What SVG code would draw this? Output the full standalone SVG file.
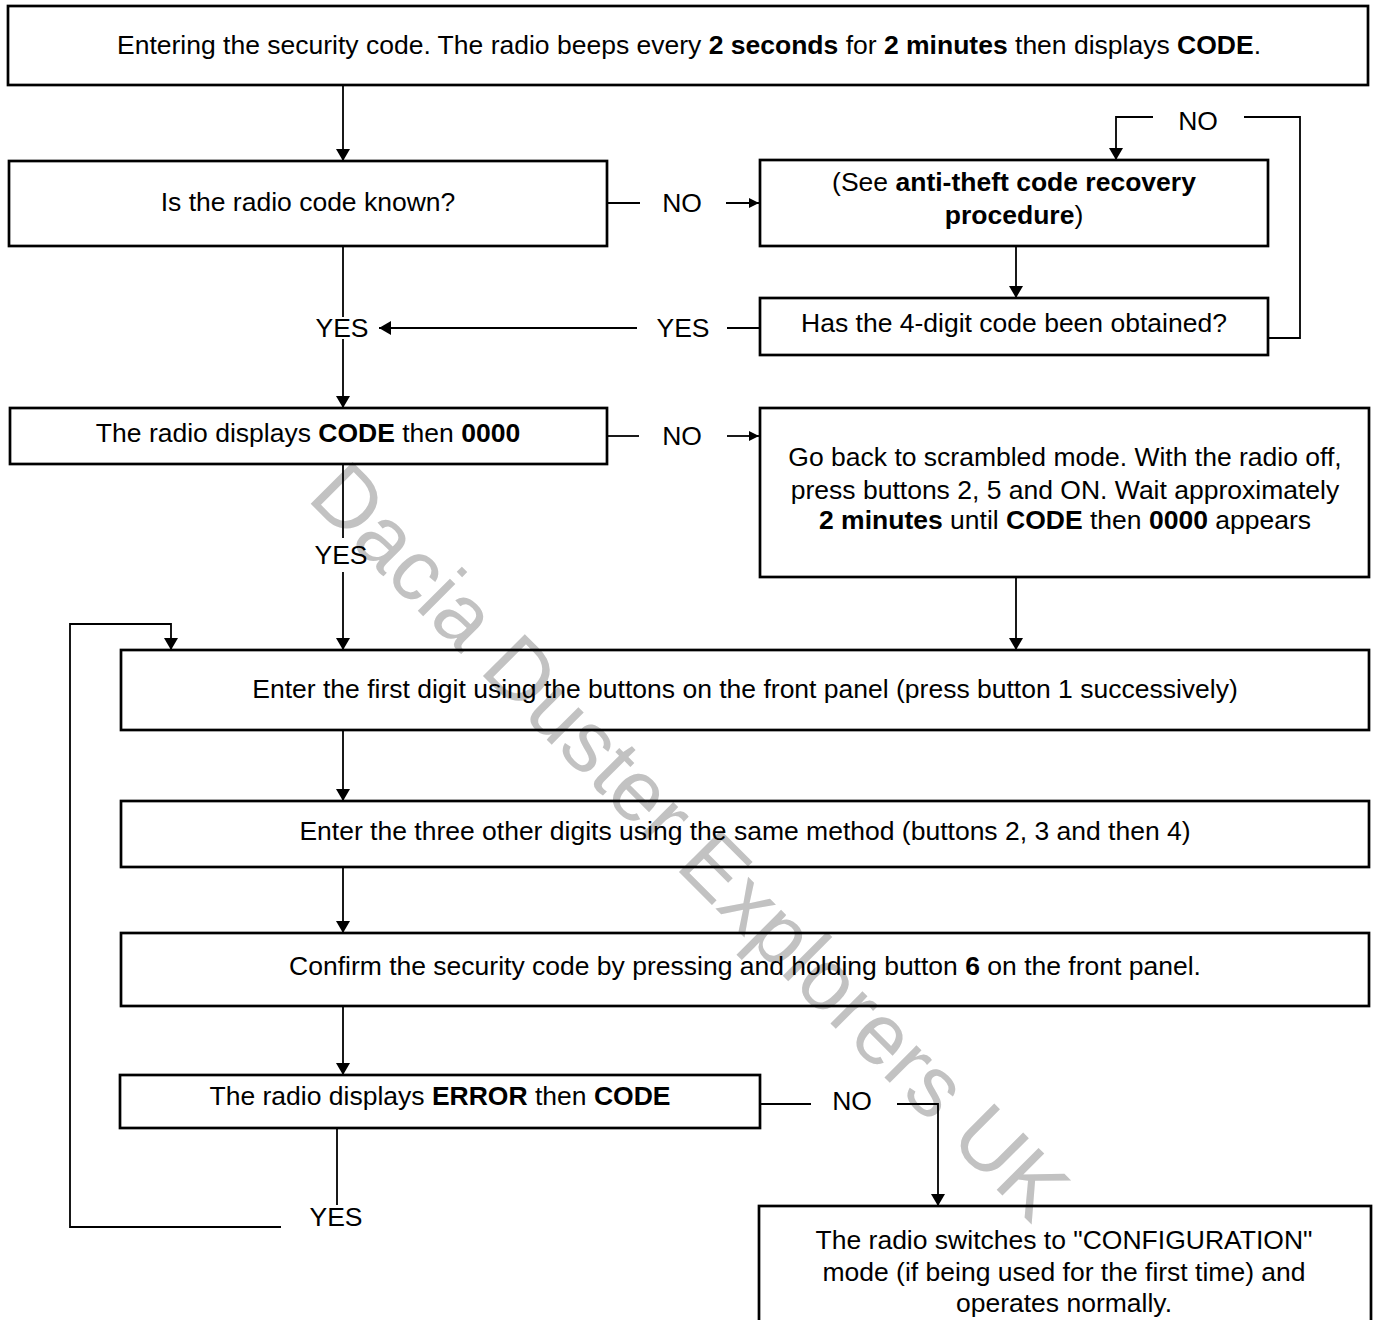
<svg xmlns="http://www.w3.org/2000/svg" width="1375" height="1320" viewBox="0 0 1375 1320">
<style>
  text { font-family: "Liberation Sans", Arial, sans-serif; font-size: 26.5px; fill: #000; }
  .c { text-anchor: middle; }
  .b { font-weight: bold; }
  .box { fill: none; stroke: #000; stroke-width: 2.7; }
  .ln { fill: none; stroke: #000; stroke-width: 1.8; }
  .wm { font-size: 86px; fill: #c2c2c2; text-anchor: middle; }
</style>
<defs>
  <marker id="arr" markerUnits="userSpaceOnUse" markerWidth="13" markerHeight="14" refX="12" refY="7" orient="auto">
    <path d="M0,0 L12,7 L0,14 z" fill="#000"/>
  </marker>
  <marker id="arrs" markerUnits="userSpaceOnUse" markerWidth="11" markerHeight="11" refX="10" refY="5" orient="auto">
    <path d="M0,0 L10,5 L0,10 z" fill="#000"/>
  </marker>
</defs>
<rect width="1375" height="1320" fill="#fff"/>

<g id="watermark">
  <text class="wm" x="669" y="862" transform="rotate(45 669 862)">Dacia Duster Explorers UK</text>
</g>

<g id="connectors">
  <line class="ln" x1="343" y1="85" x2="343" y2="161" marker-end="url(#arr)"/>
  <line class="ln" x1="607" y1="203" x2="640" y2="203"/>
  <text class="c" x="682" y="212">NO</text>
  <line class="ln" x1="726" y1="203" x2="759" y2="203" marker-end="url(#arrs)"/>
  <line class="ln" x1="1016" y1="246" x2="1016" y2="298" marker-end="url(#arr)"/>
  <polyline class="ln" points="1268,338 1300,338 1300,117 1244,117"/>
  <text class="c" x="1198" y="130">NO</text>
  <polyline class="ln" points="1153,117 1116,117 1116,160" marker-end="url(#arr)"/>
  <line class="ln" x1="760" y1="328" x2="727" y2="328"/>
  <text class="c" x="683" y="337">YES</text>
  <line class="ln" x1="637" y1="328" x2="379" y2="328" marker-end="url(#arr)"/>
  <line class="ln" x1="343" y1="246" x2="343" y2="317"/>
  <text class="c" x="342" y="337">YES</text>
  <line class="ln" x1="343" y1="339" x2="343" y2="408" marker-end="url(#arr)"/>
  <line class="ln" x1="607" y1="436" x2="639" y2="436"/>
  <text class="c" x="682" y="445">NO</text>
  <line class="ln" x1="727" y1="436" x2="759" y2="436" marker-end="url(#arrs)"/>
  <line class="ln" x1="343" y1="464" x2="343" y2="538"/>
  <text class="c" x="341" y="564">YES</text>
  <line class="ln" x1="343" y1="572" x2="343" y2="650" marker-end="url(#arr)"/>
  <line class="ln" x1="1016" y1="577" x2="1016" y2="650" marker-end="url(#arr)"/>
  <line class="ln" x1="343" y1="730" x2="343" y2="801" marker-end="url(#arr)"/>
  <line class="ln" x1="343" y1="867" x2="343" y2="933" marker-end="url(#arr)"/>
  <line class="ln" x1="343" y1="1006" x2="343" y2="1075" marker-end="url(#arr)"/>
  <line class="ln" x1="760" y1="1104" x2="811" y2="1104"/>
  <text class="c" x="852" y="1110">NO</text>
  <polyline class="ln" points="897,1104 938,1104 938,1206" marker-end="url(#arr)"/>
  <line class="ln" x1="337" y1="1128" x2="337" y2="1205"/>
  <text class="c" x="336" y="1226">YES</text>
  <polyline class="ln" points="281,1227 70,1227 70,624 171,624 171,650" marker-end="url(#arr)"/>
</g>

<g id="n-start">
  <rect class="box" x="8" y="6" width="1360" height="79"/>
  <text class="c" x="689" y="54">Entering the security code. The radio beeps every <tspan class="b">2 seconds</tspan> for <tspan class="b">2 minutes</tspan> then displays <tspan class="b">CODE</tspan>.</text>
</g>
<g id="n-known">
  <rect class="box" x="9" y="161" width="598" height="85"/>
  <text class="c" x="308" y="211">Is the radio code known?</text>
</g>
<g id="n-recovery">
  <rect class="box" x="760" y="160" width="508" height="86"/>
  <text class="c" x="1014" y="191">(See <tspan class="b">anti-theft code recovery</tspan></text>
  <text class="c" x="1014" y="224"><tspan class="b">procedure</tspan>)</text>
</g>
<g id="n-obtained">
  <rect class="box" x="760" y="298" width="508" height="57"/>
  <text class="c" x="1014" y="332">Has the 4-digit code been obtained?</text>
</g>
<g id="n-display">
  <rect class="box" x="10" y="408" width="597" height="56"/>
  <text class="c" x="308" y="442">The radio displays <tspan class="b">CODE</tspan> then <tspan class="b">0000</tspan></text>
</g>
<g id="n-scrambled">
  <rect class="box" x="760" y="408" width="609" height="169"/>
  <text class="c" x="1065" y="466">Go back to scrambled mode. With the radio off,</text>
  <text class="c" x="1065" y="499">press buttons 2, 5 and ON. Wait approximately</text>
  <text class="c" x="1065" y="529"><tspan class="b">2 minutes</tspan> until <tspan class="b">CODE</tspan> then <tspan class="b">0000</tspan> appears</text>
</g>
<g id="n-first">
  <rect class="box" x="121" y="650" width="1248" height="80"/>
  <text class="c" x="745" y="698">Enter the first digit using the buttons on the front panel (press button 1 successively)</text>
</g>
<g id="n-others">
  <rect class="box" x="121" y="801" width="1248" height="66"/>
  <text class="c" x="745" y="840">Enter the three other digits using the same method (buttons 2, 3 and then 4)</text>
</g>
<g id="n-confirm">
  <rect class="box" x="121" y="933" width="1248" height="73"/>
  <text class="c" x="745" y="975">Confirm the security code by pressing and holding button <tspan class="b">6</tspan> on the front panel.</text>
</g>
<g id="n-error">
  <rect class="box" x="120" y="1075" width="640" height="53"/>
  <text class="c" x="440" y="1105">The radio displays <tspan class="b">ERROR</tspan> then <tspan class="b">CODE</tspan></text>
</g>
<g id="n-config">
  <rect class="box" x="759" y="1206" width="612" height="130"/>
  <text class="c" x="1064" y="1249">The radio switches to "CONFIGURATION"</text>
  <text class="c" x="1064" y="1281">mode (if being used for the first time) and</text>
  <text class="c" x="1064" y="1312">operates normally.</text>
</g>
</svg>
